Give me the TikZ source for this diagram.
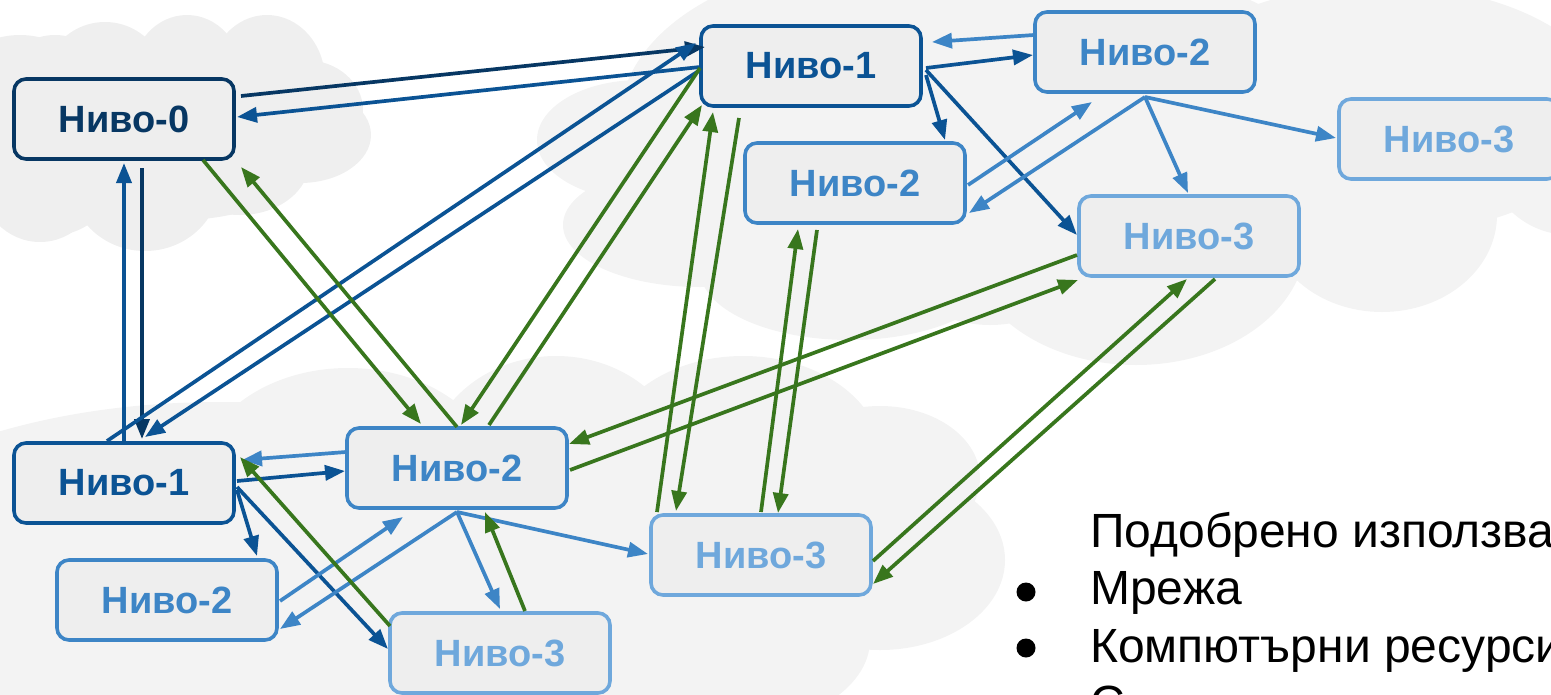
\documentclass[tikz,border=0pt]{standalone}
\usepackage{fontspec}
\setmainfont{Liberation Sans}
\usetikzlibrary{arrows.meta,calc}
\definecolor{lvlzero}{HTML}{073763}
\definecolor{lvlone}{HTML}{0B5394}
\definecolor{lvltwo}{HTML}{3D85C6}
\definecolor{lvlthree}{HTML}{6FA8DC}
\definecolor{grn}{HTML}{38761D}
\definecolor{cloudA}{HTML}{EFEFEF}
\definecolor{cloudB}{HTML}{F3F3F3}
\definecolor{nodefill}{HTML}{EEEEEE}
\tikzset{
  lvl/.style={draw=#1, text=#1, fill=nodefill, rounded corners=12pt, line width=3.6pt,
    minimum width=220pt, minimum height=80pt, inner sep=0pt,
    font=\fontsize{38}{44}\selectfont\bfseries},
  conn/.style={draw=#1, line width=3.7pt, -{Triangle[length=20pt,width=15pt]}},
  txt/.style={font=\fontsize{48}{57}\selectfont, text=black, inner sep=0pt, anchor=base west},
  bul/.style={circle, fill=black, inner sep=0pt, minimum size=19pt},
}
\begin{document}
\begin{tikzpicture}[x=1pt,y=-1pt]
\useasboundingbox (0,0) rectangle (1551,694);
\clip (0,0) rectangle (1551,694);
% top-left cloud
\foreach \cx/\cy/\rx/\ry in {20/110/80/75, 55/135/75/100, 105/85/62/63, 187/75/55/60, 267/80/58/65, 305/110/58/50, 300/135/71/48, 240/160/70/55, 145/180/75/71, 40/180/60/62, 180/130/150/90}
  \fill[cloudA] (\cx,\cy) ellipse [x radius=\rx pt, y radius=\ry pt];
% top-right cloud
\foreach \cx/\cy/\rx/\ry in {640/140/103/60, 700/225/137/62, 880/120/260/160, 850/270/150/70, 990/260/90/65, 1136/240/170/125, 1382/215/115/97, 1380/110/230/125, 1570/150/85/85, 1100/120/250/150}
  \fill[cloudB] (\cx,\cy) ellipse [x radius=\rx pt, y radius=\ry pt];
% bottom cloud
\foreach \cx/\cy/\rx/\ry in {220/600/420/198, 348/480/150/112, 556/470/130/114, 743/460/140/104, 880/478/100/72, 880/560/125/90, 720/640/150/90, 450/580/380/140}
  \fill[cloudB] (\cx,\cy) ellipse [x radius=\rx pt, y radius=\ry pt];

% nodes
\node[lvl=lvlzero]  (A) at (124,119) {Ниво-0};
\node[lvl=lvlone]   (B) at (811,66)  {Ниво-1};
\node[lvl=lvltwo]   (C) at (1145,52) {Ниво-2};
\node[lvl=lvltwo]   (D) at (855,183) {Ниво-2};
\node[lvl=lvlthree] (E) at (1449,139) {Ниво-3};
\node[lvl=lvlthree] (F) at (1189,236) {Ниво-3};
\node[lvl=lvlone]   (G) at (124,483) {Ниво-1};
\node[lvl=lvltwo]   (H) at (457,468) {Ниво-2};
\node[lvl=lvltwo]   (I) at (167,600) {Ниво-2};
\node[lvl=lvlthree] (J) at (500,653) {Ниво-3};
\node[lvl=lvlthree] (K) at (761,555) {Ниво-3};

% blue connectors
\draw[conn=lvlzero] ($(A.center)+(117,-23)$) -- ($(B.center)+(-106,-19)$);
\draw[conn=lvlone]  ($(B.center)+(-111,1)$) -- ($(A.center)+(113,-2)$);
\draw[conn=lvlone]  ($(G.center)+(0,-42)$) -- ($(A.center)+(0,44)$);
\draw[conn=lvlzero] ($(A.center)+(18,49)$) -- ($(G.center)+(18,-44)$);
\draw[conn=lvlone]  ($(G.center)+(-17,-42)$) -- ($(B.center)+(-115,-23)$);
\draw[conn=lvlone]  ($(B.center)+(-111,4)$) -- ($(G.center)+(21,-46)$);
\draw[conn=lvltwo]  ($(C.center)+(-111,-17)$) -- ($(B.center)+(121,-24)$);
\draw[conn=lvlone]  ($(B.center)+(115,2)$) -- ($(C.center)+(-112,3)$);
\draw[conn=lvlone]  ($(B.center)+(115,9)$) -- ($(D.center)+(90,-43)$);
\draw[conn=lvlone]  ($(B.center)+(115,4)$) -- ($(F.center)+(-112,-1)$);
\draw[conn=lvltwo]  ($(D.center)+(113,2)$) -- ($(C.center)+(-53,50)$);
\draw[conn=lvltwo]  ($(C.center)+(0,45)$) -- ($(D.center)+(114,30)$);
\draw[conn=lvltwo]  ($(C.center)+(0,45)$) -- ($(F.center)+(-1,-43)$);
\draw[conn=lvltwo]  ($(C.center)+(0,45)$) -- ($(E.center)+(-113,-1)$);
\draw[conn=lvltwo]  ($(H.center)+(-111,-16)$) -- ($(G.center)+(118,-23)$);
\draw[conn=lvlone]  ($(G.center)+(113,-2)$) -- ($(H.center)+(-112,3)$);
\draw[conn=lvlone]  ($(G.center)+(113,7)$) -- ($(I.center)+(90,-44)$);
\draw[conn=lvlone]  ($(G.center)+(113,4)$) -- ($(J.center)+(-112,-4)$);
\draw[conn=lvltwo]  ($(I.center)+(113,1)$) -- ($(H.center)+(-54,49)$);
\draw[conn=lvltwo]  ($(H.center)+(0,44)$) -- ($(I.center)+(113,29)$);
\draw[conn=lvltwo]  ($(H.center)+(0,44)$) -- ($(J.center)+(0,-44)$);
\draw[conn=lvltwo]  ($(H.center)+(0,44)$) -- ($(K.center)+(-113,-1)$);

% green connectors
\draw[conn=grn] ($(A.center)+(79,41)$) -- ($(H.center)+(-36,-44)$);
\draw[conn=grn] ($(H.center)+(0,-41)$) -- ($(A.center)+(117,48)$);
\draw[conn=grn] ($(B.center)+(-111,2)$) -- ($(H.center)+(4,-43)$);
\draw[conn=grn] ($(H.center)+(32,-43)$) -- ($(B.center)+(-109,39)$);
\draw[conn=grn] ($(K.center)+(-104,-43)$) -- ($(B.center)+(-98,46)$);
\draw[conn=grn] ($(B.center)+(-72,52)$) -- ($(K.center)+(-85,-44)$);
\draw[conn=grn] ($(K.center)+(0,-43)$) -- ($(D.center)+(-57,46)$);
\draw[conn=grn] ($(D.center)+(-38,47)$) -- ($(K.center)+(17,-42)$);
\draw[conn=grn] ($(F.center)+(-112,19)$) -- ($(H.center)+(112,-24)$);
\draw[conn=grn] ($(H.center)+(113,2)$) -- ($(F.center)+(-111,44)$);
\draw[conn=grn] ($(K.center)+(112,6)$) -- ($(F.center)+(-2,43)$);
\draw[conn=grn] ($(F.center)+(26,43)$) -- ($(K.center)+(112,29)$);
\draw[conn=grn] ($(J.center)+(-110,-27)$) -- ($(G.center)+(116,-26)$);
\draw[conn=grn] ($(J.center)+(25,-42)$) -- ($(H.center)+(28,44)$);

% text
\node[txt] (t1) at (1090,547) {Подобрено използва};
\node[bul] (b1) at (1026,592) {};
\node[txt] (t2) at (1090,604) {Мрежа};
\node[bul] (b2) at (1026,648) {};
\node[txt] (t3) at (1090,662) {Компютърни ресурси};
\node[txt] (t4) at (1090,719) {С};
\end{tikzpicture}
\end{document}
